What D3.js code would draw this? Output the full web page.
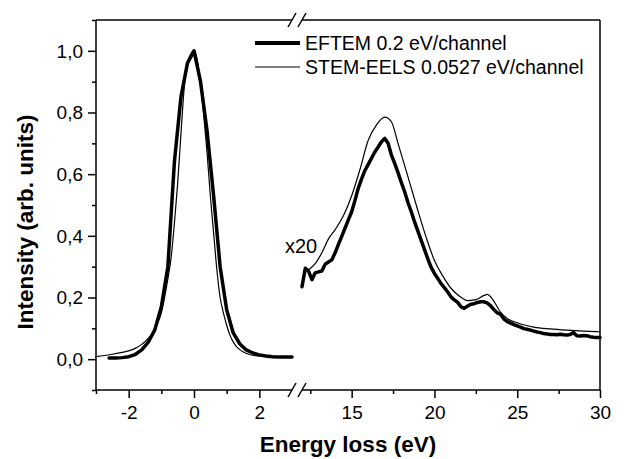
<!DOCTYPE html>
<html>
<head>
<meta charset="utf-8">
<script src="https://d3js.org/d3.v7.min.js"></script>
<style>
    body { margin: 0; background: #fff; }
    svg text { font-family: "Liberation Sans", Arial, sans-serif; fill: #000; }
</style>
</head>
<body>
<svg id="chart" width="625" height="459"></svg>
<script>

// Zero-loss peak, EFTEM 0.2 eV/channel
let zlpEftemE = [-2.6, -2.4, -2.2, -2.0, -1.8, -1.6, -1.4, -1.2, -1.0, -0.8, -0.6, -0.4, -0.2, 0.0,
    0.2, 0.4, 0.6, 0.8, 1.0, 1.2, 1.4, 1.6, 1.8, 2.0, 2.2, 2.4, 2.6, 2.8, 3.0];
let zlpEftemI = [0.004, 0.004, 0.005, 0.008, 0.015, 0.030, 0.055, 0.095, 0.17, 0.30, 0.64, 0.85, 0.96, 1.0,
    0.90, 0.74, 0.53, 0.30, 0.16, 0.085, 0.05, 0.03, 0.02, 0.014, 0.01, 0.008, 0.007, 0.007, 0.007];

// Zero-loss peak, STEM-EELS 0.0527 eV/channel
let zlpStemE = [-3.0, -2.8, -2.5, -2.2, -2.0, -1.8, -1.6, -1.5, -1.4, -1.3, -1.2, -1.1, -1.0, -0.9, -0.8,
    -0.7, -0.6, -0.5, -0.4, -0.3, -0.2, -0.1, 0.0, 0.1, 0.2, 0.3, 0.4, 0.5, 0.6, 0.7, 0.8, 0.9, 1.0,
    1.1, 1.2, 1.3, 1.4, 1.5, 1.7, 2.0, 2.3];
let zlpStemI = [0.008, 0.011, 0.016, 0.022, 0.027, 0.035, 0.048, 0.057, 0.067, 0.08, 0.098, 0.12, 0.15, 0.20, 0.26,
    0.33, 0.44, 0.57, 0.73, 0.88, 0.96, 0.99, 1.0, 0.97, 0.89, 0.79, 0.67, 0.53, 0.41, 0.29, 0.20, 0.15, 0.11,
    0.078, 0.056, 0.041, 0.031, 0.024, 0.015, 0.010, 0.008];

// Plasmon region (x20), EFTEM
let lossEftemE = [12.0, 12.2, 12.4, 12.6, 12.8, 13.0, 13.2, 13.4, 13.6, 13.8, 14.0, 14.2, 14.4, 14.6, 14.8,
    15.0, 15.2, 15.4, 15.6, 15.8, 16.0, 16.2, 16.4, 16.6, 16.8, 17.0, 17.2, 17.4, 17.6, 17.8,
    18.0, 18.2, 18.4, 18.6, 18.8, 19.0, 19.2, 19.4, 19.6, 19.8, 20.0, 20.2, 20.4, 20.6, 20.8,
    21.0, 21.2, 21.4, 21.6, 21.8, 22.0, 22.2, 22.4, 22.6, 22.8, 23.0, 23.2, 23.4, 23.6, 23.8,
    24.0, 24.2, 24.4, 24.6, 24.8, 25.0, 25.2, 25.4, 25.6, 25.8, 26.0, 26.2, 26.4, 26.6, 26.8,
    27.0, 27.2, 27.4, 27.6, 27.8, 28.0, 28.2, 28.4, 28.6, 28.8, 29.0, 29.2, 29.4, 29.6, 29.8, 30.0];
let lossEftemI = [0.235, 0.295, 0.285, 0.258, 0.280, 0.283, 0.286, 0.308, 0.315, 0.322, 0.345, 0.372, 0.398, 0.425, 0.452,
    0.478, 0.515, 0.555, 0.585, 0.612, 0.632, 0.652, 0.672, 0.688, 0.705, 0.716, 0.700, 0.662, 0.635, 0.605,
    0.573, 0.543, 0.508, 0.478, 0.445, 0.415, 0.385, 0.355, 0.325, 0.298, 0.278, 0.262, 0.245, 0.232, 0.218,
    0.202, 0.192, 0.184, 0.170, 0.165, 0.172, 0.178, 0.180, 0.184, 0.186, 0.186, 0.182, 0.173, 0.160, 0.150,
    0.145, 0.130, 0.122, 0.117, 0.112, 0.108, 0.104, 0.099, 0.097, 0.094, 0.091, 0.088, 0.086, 0.083, 0.082,
    0.080, 0.080, 0.079, 0.081, 0.079, 0.078, 0.080, 0.086, 0.076, 0.075, 0.077, 0.076, 0.073, 0.071, 0.070, 0.070];

// Plasmon region (x20), STEM-EELS
let lossStemE = [12.4, 12.8, 13.2, 13.6, 14.0, 14.5, 15.0, 15.5, 16.0, 16.5, 17.0, 17.4, 17.8, 18.3, 18.9,
    19.5, 20.0, 20.5, 21.0, 21.5, 22.0, 22.5, 23.0, 23.2, 23.5, 24.0, 24.4, 25.0, 25.5, 26.0,
    27.0, 28.0, 29.0, 30.0];
let lossStemI = [0.29, 0.31, 0.345, 0.39, 0.42, 0.465, 0.53, 0.615, 0.71, 0.76, 0.785, 0.77, 0.70, 0.61, 0.50,
    0.395, 0.32, 0.27, 0.23, 0.205, 0.19, 0.193, 0.207, 0.21, 0.195, 0.152, 0.132, 0.118, 0.110, 0.104,
    0.098, 0.094, 0.091, 0.089];

let seriesNames = ["EFTEM 0.2 eV/channel", "STEM-EELS 0.0527 eV/channel"];
let leftTicks = [-2, 0, 2];
let leftMinor = [-3, -1, 1];
let rightTicks = [15, 20, 25, 30];
let rightMinor = [12.5, 17.5, 22.5, 27.5];
let yTicks = [0, 0.2, 0.4, 0.6, 0.8, 1.0];
let yMinor = [-0.1, 0.1, 0.3, 0.5, 0.7, 0.9, 1.1];

let svg = d3.select("#chart");

let mLeft = 96, mRight = 600, mTop = 20, mBottom = 390;

// broken x axis: two linear pieces
let xLeft = d3.scaleLinear().domain([-3, 3]).range([mLeft, 292]);
let xRight = d3.scaleLinear().domain([12, 30]).range([302, mRight]);
let y = d3.scaleLinear().domain([-0.1, 1.1]).range([mBottom, mTop]);

// comma decimals and a plain hyphen for negatives, like the original
let comma = d3.formatLocale({decimal: ",", thousands: ".", grouping: [3], currency: ["", ""], minus: "-"});
let fmtY = comma.format(".1f");
let fmtX = comma.format("d");

function zip(xs, ys) {
    return xs.map(function(d, i) { return [d, ys[i]]; });
}

// ---------- axes ----------
function bottomAxis(scale, major, minor) {
    let g = svg.append("g").attr("transform", "translate(0," + mBottom + ")");
    g.append("g").call(d3.axisBottom(scale).tickValues(minor).tickSize(4).tickSizeOuter(0).tickFormat(""));
    g.append("g").call(d3.axisBottom(scale).tickValues(major).tickSize(8).tickSizeOuter(0).tickFormat(fmtX));
    g.selectAll("path.domain").remove();
    g.selectAll("line").attr("stroke", "#000").attr("stroke-width", 1.5);
    g.selectAll("text").attr("y", 29).attr("dy", null)
        .style("font-size", "19px");
    return g;
}
bottomAxis(xLeft, leftTicks, leftMinor);
bottomAxis(xRight, rightTicks, rightMinor);

let gy = svg.append("g").attr("transform", "translate(" + mLeft + ",0)");
gy.append("g").call(d3.axisLeft(y).tickValues(yMinor).tickSize(4).tickSizeOuter(0).tickFormat(""));
gy.append("g").call(d3.axisLeft(y).tickValues(yTicks).tickSize(8).tickSizeOuter(0).tickFormat(fmtY));
gy.selectAll("path.domain").remove();
gy.selectAll("line").attr("stroke", "#000").attr("stroke-width", 1.5);
gy.selectAll("text").attr("x", -13).attr("dy", "0.34em").style("font-size", "19px");

// frame with break gaps
let frame = svg.append("g").attr("stroke", "#000").attr("stroke-width", 1.5).attr("fill", "none");
[mTop, mBottom].forEach(function(yy) {
    frame.append("line").attr("x1", mLeft).attr("x2", xLeft(3)).attr("y1", yy).attr("y2", yy);
    frame.append("line").attr("x1", xRight(12)).attr("x2", mRight).attr("y1", yy).attr("y2", yy);
    // break marks "//"
    [xLeft(3), xRight(12)].forEach(function(bx) {
        frame.append("line").attr("x1", bx - 4).attr("y1", yy + 7).attr("x2", bx + 4).attr("y2", yy - 7);
    });
});
frame.append("line").attr("x1", mLeft).attr("x2", mLeft).attr("y1", mTop).attr("y2", mBottom);
frame.append("line").attr("x1", mRight).attr("x2", mRight).attr("y1", mTop).attr("y2", mBottom);

// ---------- curves ----------
let lineL = d3.line().x(function(d) { return xLeft(d[0]); }).y(function(d) { return y(d[1]); });
let lineR = d3.line().x(function(d) { return xRight(d[0]); }).y(function(d) { return y(d[1]); });

let curves = svg.append("g").attr("fill", "none").attr("stroke", "#000")
    .attr("stroke-linejoin", "round").attr("stroke-linecap", "round");

curves.append("path").datum(zip(zlpStemE, zlpStemI)).attr("d", lineL.curve(d3.curveMonotoneX)).attr("stroke-width", 1.2);
curves.append("path").datum(zip(zlpEftemE, zlpEftemI)).attr("d", lineL.curve(d3.curveLinear)).attr("stroke-width", 3.5);
curves.append("path").datum(zip(lossStemE, lossStemI)).attr("d", lineR.curve(d3.curveMonotoneX)).attr("stroke-width", 1.2);
curves.append("path").datum(zip(lossEftemE, lossEftemI)).attr("d", lineR.curve(d3.curveLinear)).attr("stroke-width", 3.5);

svg.append("text").attr("x", 285).attr("y", 253).style("font-size", "20px").text("x20");

// ---------- legend ----------
let legend = svg.append("g");
seriesNames.forEach(function(name, i) {
    let ly = 43 + i * 24;
    legend.append("line").attr("x1", 255).attr("x2", 300).attr("y1", ly).attr("y2", ly)
        .attr("stroke", "#000").attr("stroke-width", i == 0 ? 4 : 1.2);
    legend.append("text").attr("x", 305).attr("y", ly + 7).style("font-size", "19.5px").text(name);
});

// ---------- axis titles ----------
svg.append("text").attr("x", 348).attr("y", 452).attr("text-anchor", "middle")
    .style("font-size", "22.5px").style("font-weight", "bold").text("Energy loss (eV)");

svg.append("text").attr("transform", "translate(33,222) rotate(-90)").attr("text-anchor", "middle")
    .style("font-size", "22.5px").style("font-weight", "bold").text("Intensity (arb. units)");

</script>
</body>
</html>
